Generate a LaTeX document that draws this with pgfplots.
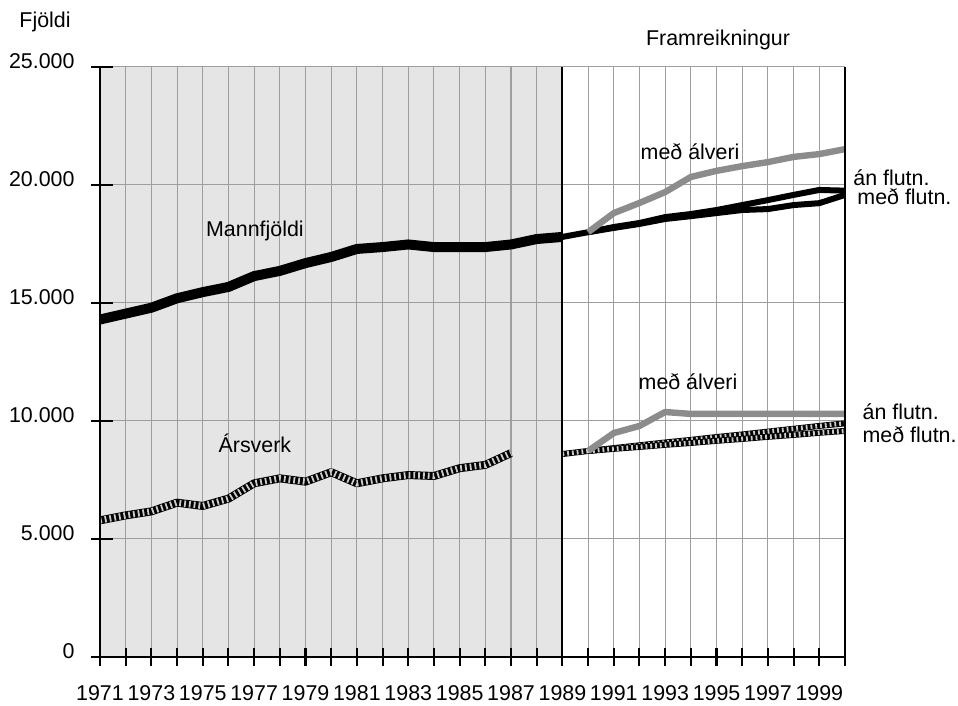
\documentclass[border=0pt]{standalone}
\usepackage{fontspec}
\setmainfont{Liberation Sans}
\usepackage{pgfplots}
\pgfplotsset{compat=1.18}
\definecolor{bgshade}{gray}{0.90}
\definecolor{gridc}{gray}{0.62}
\definecolor{lgray}{gray}{0.55}
\begin{document}
\fontsize{10.7}{12.8}\selectfont
\begin{tikzpicture}
\pgfplotsset{set layers}
\begin{axis}[
  scale only axis, width=372.5pt, height=295pt,
  xmin=1971, xmax=2000, ymin=0, ymax=25000,
  xtick={1971,1973,...,1999},
  minor xtick={1971,...,2000},
  ytick={0,5000,...,25000},
  grid=both,
  grid style={gridc, line width=0.5pt},
  minor grid style={gridc, line width=0.5pt},
  tick align=center,
  major tick length=9pt, minor tick length=9pt,
  tick style={black, line width=1pt},
  xtick pos=bottom, ytick pos=left,
  axis line style={draw=none},
  scaled y ticks=false,
  /pgf/number format/.cd, 1000 sep={.}, assume math mode=true,
  /pgfplots/.cd,
  xticklabel style={/pgf/number format/1000 sep={}, inner sep=0pt, yshift=-9.6pt},
  yticklabel style={xshift=-4.5pt, yshift=3pt},
  clip=false,
]
\begin{pgfonlayer}{axis background}
\fill[bgshade] (axis cs:1971,0) rectangle (axis cs:1989,25000);
\end{pgfonlayer}

% Mannfjoldi
\addplot[black, line width=5pt, line join=round] coordinates {
(1971,14300) (1972,14550) (1973,14800) (1974,15200) (1975,15460) (1976,15680)
(1977,16140) (1978,16360) (1979,16690) (1980,16950) (1981,17290) (1982,17370)
(1983,17480) (1984,17370) (1985,17370) (1986,17370) (1987,17480) (1988,17710) (1989,17800)};
% projections Mannfjoldi
\addplot[black, line width=3pt, line join=round] coordinates {
(1989,17800) (1990,18000) (1991,18220) (1992,18390) (1993,18640) (1994,18770) (1995,18940)
(1996,19150) (1997,19360) (1998,19580) (1999,19790) (2000,19760)};
\addplot[black, line width=3pt, line join=round] coordinates {
(1990,18000) (1991,18180) (1992,18350) (1993,18560) (1994,18680) (1995,18810)
(1996,18940) (1997,18980) (1998,19150) (1999,19230) (2000,19580)};
\addplot[lgray, line width=3.2pt, line join=round] coordinates {
(1990,18000) (1991,18810) (1992,19240) (1993,19700) (1994,20340) (1995,20600)
(1996,20800) (1997,20970) (1998,21190) (1999,21310) (2000,21520)};

% Arsverk
\addplot[black, line width=4pt, line join=round] coordinates {
(1971,5790) (1972,6000) (1973,6170) (1974,6540) (1975,6400) (1976,6710) (1977,7360)
(1978,7570) (1979,7430) (1980,7830) (1981,7360) (1982,7570) (1983,7710) (1984,7670)
(1985,8000) (1986,8140) (1987,8640)};
\addplot[white!80!black, line width=3.2pt, dash pattern=on 0.9pt off 1.5pt] coordinates {
(1971,5790) (1972,6000) (1973,6170) (1974,6540) (1975,6400) (1976,6710) (1977,7360)
(1978,7570) (1979,7430) (1980,7830) (1981,7360) (1982,7570) (1983,7710) (1984,7670)
(1985,8000) (1986,8140) (1987,8640)};
% projections Arsverk
\addplot[black, line width=3pt] coordinates {
(1989,8600) (1990,8730) (1991,8850) (1992,8970) (1993,9090) (1994,9200) (1995,9320)
(1996,9430) (1997,9550) (1998,9670) (1999,9790) (2000,9900)};
\addplot[white!80!black, line width=2.3pt, dash pattern=on 0.9pt off 1.5pt] coordinates {
(1989,8600) (1990,8730) (1991,8850) (1992,8970) (1993,9090) (1994,9200) (1995,9320)
(1996,9430) (1997,9550) (1998,9670) (1999,9790) (2000,9900)};
\addplot[black, line width=3pt] coordinates {
(1990,8730) (1991,8820) (1992,8900) (1993,8990) (1994,9070) (1995,9160)
(1996,9240) (1997,9330) (1998,9410) (1999,9500) (2000,9580)};
\addplot[white!80!black, line width=2.3pt, dash pattern=on 0.9pt off 1.5pt] coordinates {
(1990,8730) (1991,8820) (1992,8900) (1993,8990) (1994,9070) (1995,9160)
(1996,9240) (1997,9330) (1998,9410) (1999,9500) (2000,9580)};
\addplot[lgray, line width=3.2pt, line join=round] coordinates {
(1990,8730) (1991,9490) (1992,9790) (1993,10380) (1994,10300) (1995,10300)
(1996,10300) (1997,10300) (1998,10300) (1999,10300) (2000,10300)};

% frame lines
\draw[gridc, line width=0.5pt] (axis cs:1971,25000) -- (axis cs:2000,25000);
\draw[black, line width=1pt] (axis cs:1971,0) -- (axis cs:1971,25000);
\draw[black, line width=1pt] (axis cs:1989,0) -- (axis cs:1989,25000);
\draw[black, line width=1pt] (axis cs:2000,0) -- (axis cs:2000,25000);
\draw[black, line width=1pt] (axis cs:1971,0) -- (axis cs:2000,0);
\draw[black, line width=1pt] ([xshift=-4.5pt]axis cs:1971,0) -- ([xshift=6.5pt]axis cs:1971,0);
\draw[black, line width=1pt] ([xshift=-4.5pt]axis cs:1971,5000) -- ([xshift=6.5pt]axis cs:1971,5000);
\draw[black, line width=1pt] ([xshift=-4.5pt]axis cs:1971,10000) -- ([xshift=6.5pt]axis cs:1971,10000);
\draw[black, line width=1pt] ([xshift=-4.5pt]axis cs:1971,15000) -- ([xshift=6.5pt]axis cs:1971,15000);
\draw[black, line width=1pt] ([xshift=-4.5pt]axis cs:1971,20000) -- ([xshift=6.5pt]axis cs:1971,20000);
\draw[black, line width=1pt] ([xshift=-4.5pt]axis cs:1971,25000) -- ([xshift=6.5pt]axis cs:1971,25000);

% texts
\node at (axis cs:1968.86,26900) {Fjöldi};
\node at (axis cs:1995.06,26140) {Framreikningur};
\node at (axis cs:1977.03,18050) {Mannfjöldi};
\node at (axis cs:1977.03,9070) {Ársverk};
\node at (axis cs:1993.97,21400) {með álveri};
\node at (axis cs:1993.89,11650) {með álveri};
\node[anchor=west, inner sep=0pt] at (axis cs:2000.31,20300) {án flutn.};
\node[anchor=west, inner sep=0pt] at (axis cs:2000.47,19490) {með flutn.};
\node[anchor=west, inner sep=0pt] at (axis cs:2000.67,10380) {án flutn.};
\node[anchor=west, inner sep=0pt] at (axis cs:2000.67,9406) {með flutn.};
\end{axis}
\pgfresetboundingbox
\path[use as bounding box] (-50pt,-24.5pt) rectangle (429pt,328.5pt);
\end{tikzpicture}
\end{document}
